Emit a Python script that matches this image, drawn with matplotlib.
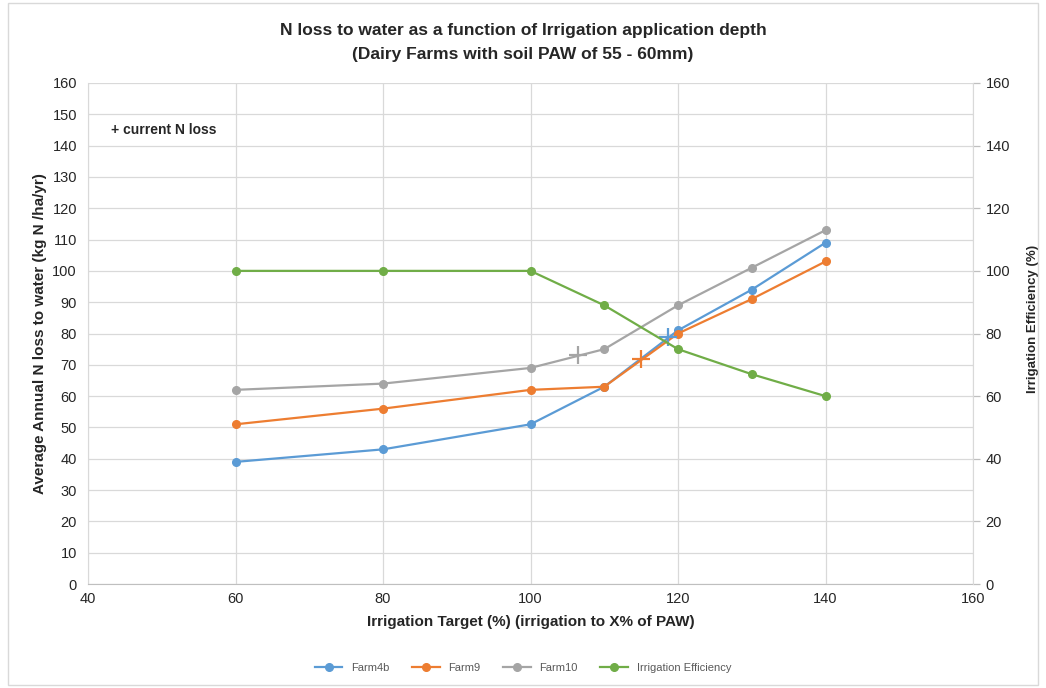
import matplotlib
matplotlib.use("Agg")
import matplotlib.pyplot as plt
from matplotlib.patches import Rectangle

plt.rcParams["font.family"] = ["Liberation Sans", "DejaVu Sans"]

# ---- data ----
targets = [60, 80, 100, 110, 120, 130, 140]
farm4b = [39, 43, 51, 63, 81, 94, 109]
farm9 = [51, 56, 62, 63, 80, 91, 103]
farm10 = [62, 64, 69, 75, 89, 101, 113]
irr_eff = [100, 100, 100, 89, 75, 67, 60]

# current N loss points (x, y)
cur_farm4b = (118.6, 79)
cur_farm9 = (115, 72)
cur_farm10 = (106.5, 73)

BLUE = "#5B9BD5"
ORANGE = "#ED7D31"
GRAY = "#A5A5A5"
GREEN = "#70AD47"
TXT = "#262626"

fig = plt.figure(figsize=(10.46, 6.88), dpi=100)
ax = fig.add_axes([88 / 1046, 1 - 584 / 688, (973 - 88) / 1046, (584 - 83) / 688])
ax2 = ax.twinx()

l1, = ax.plot(targets, farm4b, color=BLUE, marker="o", markersize=5.5, linewidth=1.6, label="Farm4b")
l2, = ax.plot(targets, farm9, color=ORANGE, marker="o", markersize=5.5, linewidth=1.6, label="Farm9")
l3, = ax.plot(targets, farm10, color=GRAY, marker="o", markersize=5.5, linewidth=1.6, label="Farm10")
l4, = ax2.plot(targets, irr_eff, color=GREEN, marker="o", markersize=5.5, linewidth=1.6, label="Irrigation Efficiency")

for pt, c in [(cur_farm4b, BLUE), (cur_farm9, ORANGE), (cur_farm10, GRAY)]:
    ax.plot(pt[0], pt[1], marker="+", markersize=13, markeredgewidth=1.6, color=c, zorder=5)

ax.set_xlim(40, 160)
ax.set_ylim(0, 160)
ax2.set_ylim(0, 160)
ax.set_xticks(range(40, 161, 20))
ax.set_yticks(range(0, 161, 10))
ax2.set_yticks(range(0, 161, 20))

ax.grid(True, color="#D9D9D9", linewidth=0.9)
ax.set_axisbelow(True)
for a in (ax, ax2):
    for s in a.spines.values():
        s.set_visible(False)
    a.tick_params(length=0, labelsize=10.5, colors=TXT)
ax.spines["bottom"].set_visible(True)
ax.spines["bottom"].set_color("#BFBFBF")
ax.spines["left"].set_visible(True)
ax.spines["left"].set_color("#D9D9D9")
ax2.spines["right"].set_visible(True)
ax2.spines["right"].set_color("#D9D9D9")
ax.tick_params(axis="x", pad=6)
ax.tick_params(axis="y", pad=8)
ax2.tick_params(axis="y", length=5, width=0.9, color="#BFBFBF", labelcolor=TXT, pad=4)

ax.set_xlabel("Irrigation Target (%) (irrigation to X% of PAW)", fontsize=11, fontweight="bold", color=TXT, labelpad=6)
ax.set_ylabel("Average Annual N loss to water (kg N /ha/yr)", fontsize=11, fontweight="bold", color=TXT, labelpad=4)
ax2.set_ylabel("Irrigation Efficiency (%)", fontsize=9.5, fontweight="bold", color=TXT, labelpad=9)
ax2.yaxis.set_label_coords(1 + 54 / 885, 0.53)

ax.text(0.026, 0.907, "+ current N loss", transform=ax.transAxes, fontsize=10, fontweight="bold", color=TXT,
        va="center", ha="left")

fig.text(0.5, 1 - 30 / 688, "N loss to water as a function of Irrigation application depth",
         ha="center", va="center", fontsize=12.5, fontweight="bold", color=TXT)
fig.text(0.5, 1 - 55 / 688, "(Dairy Farms with soil PAW of 55 - 60mm)",
         ha="center", va="center", fontsize=12.5, fontweight="bold", color=TXT)

fig.legend(handles=[l1, l2, l3, l4], loc="center", bbox_to_anchor=(0.5, 1 - 668 / 688), ncol=4,
           frameon=False, fontsize=8, handlelength=2.5, columnspacing=2.0, labelcolor="#595959")

fig.patches.append(Rectangle((8 / 1046, 3 / 688), 1030 / 1046, 682 / 688, transform=fig.transFigure,
                             fill=False, edgecolor="#D9D9D9", linewidth=1))

fig.savefig("out.png", dpi=100)
